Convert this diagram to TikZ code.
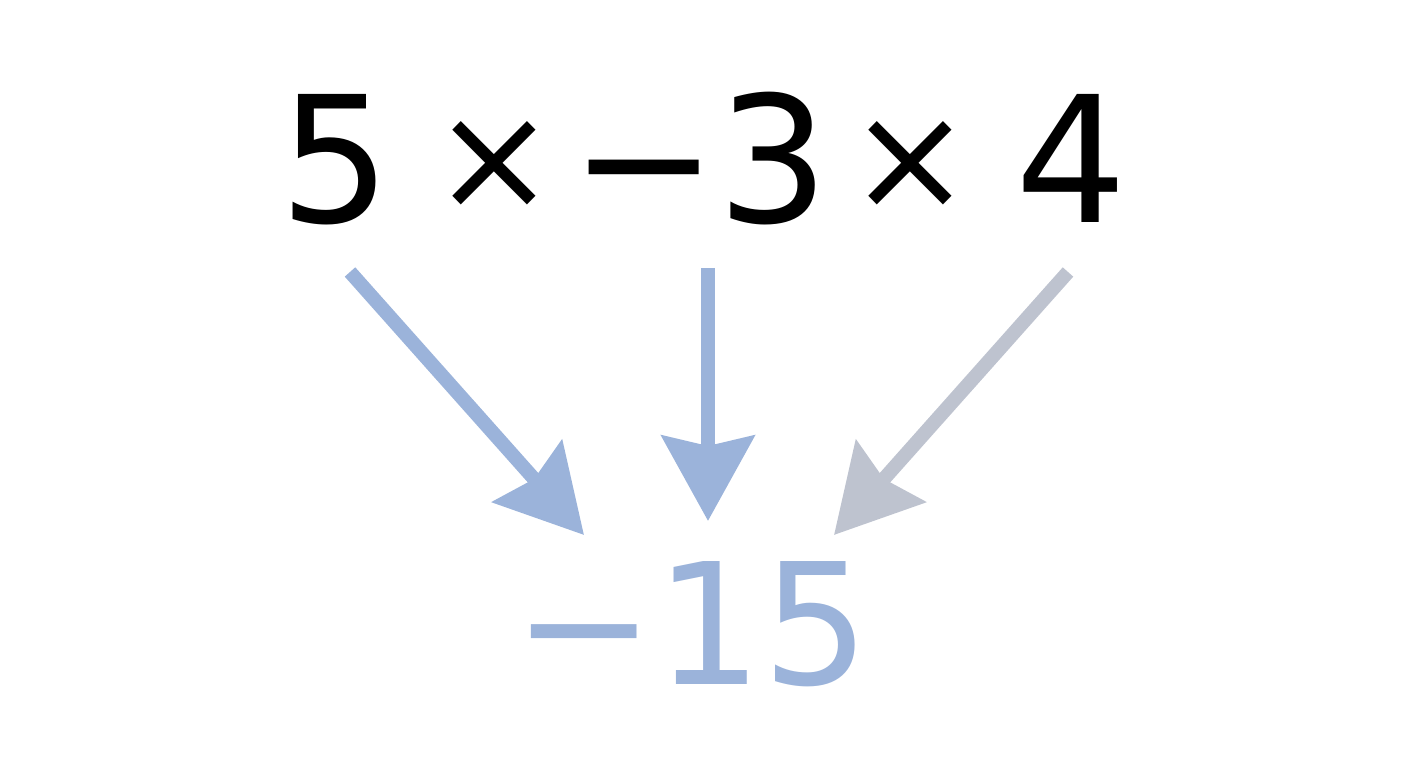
\documentclass[tikz,border=0pt]{standalone}
\usepackage{fontspec}
\setmainfont{DejaVu Sans}
\usetikzlibrary{arrows.meta}
\definecolor{resblue}{HTML}{9BB3DA}
\definecolor{resgrey}{HTML}{BEC3CF}
\begin{document}
\begin{tikzpicture}[
    term/.style={inner sep=0pt,anchor=base,font=\fontsize{50}{60}\selectfont},
    op/.style={term,font=\fontsize{42}{50}\selectfont},
    res/.style={term,text=resblue,font=\fontsize{48}{58}\selectfont},
    flow/.style={line width=4pt,-{Stealth[length=0.85cm,width=0.92cm,inset=0.1cm]}}
  ]
                \useasboundingbox (0,0) rectangle (14.08,7.68);
                \node[term] (n5) at (3.35,5.45) {5};
                \node[op] (times1) at (4.94,5.58) {×};
                \node[term] (neg3) at (7.00,5.45) {−3};
                \node[op] (times2) at (9.10,5.58) {×};
                \node[term] (n4) at (10.71,5.45) {4};
                \node[res] (prod) at (6.92,0.83) {−15};
                \coordinate (s5) at (3.50,4.96);
                \coordinate (s3) at (7.08,5.00);
                \coordinate (s4) at (10.68,4.96);
                \coordinate (t5) at (5.84,2.33);
                \coordinate (t3) at (7.08,2.47);
                \coordinate (t4) at (8.34,2.33);
                \draw[flow,resblue] (s5) -- (t5);
                \draw[flow,resblue] (s3) -- (t3);
                \draw[flow,resgrey] (s4) -- (t4);
            \end{tikzpicture}
\end{document}
